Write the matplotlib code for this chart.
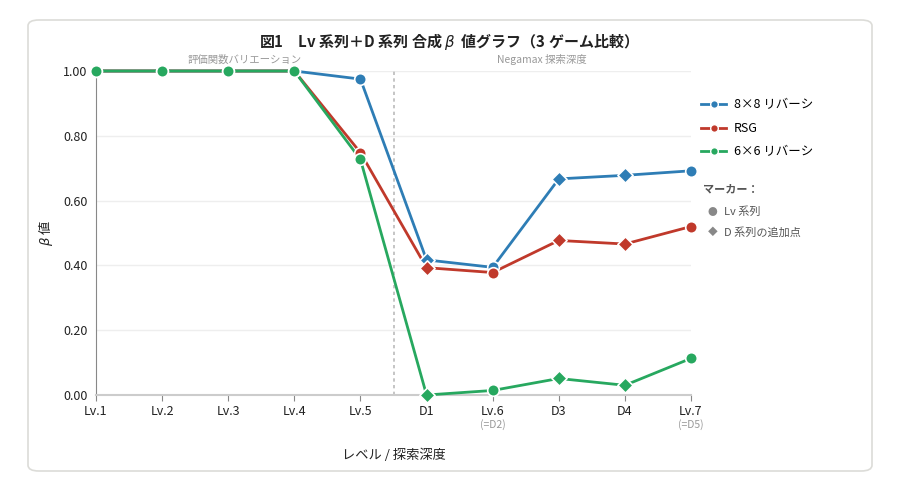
import matplotlib.pyplot as plt
from matplotlib.patches import FancyBboxPatch
from matplotlib.lines import Line2D

plt.rcParams['font.family'] = ['Noto Sans CJK JP', 'DejaVu Sans']

# x positions (categories) and labels
tick_labels = ["Lv.1", "Lv.2", "Lv.3", "Lv.4", "Lv.5", "D1", "Lv.6", "D3", "D4", "Lv.7"]
sub_labels = ["", "", "", "", "", "", "(=D2)", "", "", "(=D5)"]
is_d_point = [False, False, False, False, False, True, False, True, True, False]

reversi8 = [1.00, 1.00, 1.00, 1.00, 0.975, 0.417, 0.394, 0.667, 0.678, 0.692]
rsg = [1.00, 1.00, 1.00, 1.00, 0.748, 0.393, 0.378, 0.477, 0.466, 0.520]
reversi6 = [1.00, 1.00, 1.00, 1.00, 0.727, 0.000, 0.014, 0.051, 0.030, 0.113]

series = [
    ("8×8 リバーシ", reversi8, "#2e7db5"),
    ("RSG", rsg, "#c0392b"),
    ("6×6 リバーシ", reversi6, "#27a85f"),
]

fig = plt.figure(figsize=(9.08, 4.83), dpi=100)
fig.patch.set_facecolor("white")

# card background
card = FancyBboxPatch((28 / 908, 1 - 471 / 483), 844 / 908, 451 / 483,
                      boxstyle="round,pad=0,rounding_size=0.012",
                      transform=fig.transFigure, facecolor="white",
                      edgecolor="#dcdcd8", linewidth=1.2, zorder=-10)
fig.patches.append(card)

ax = fig.add_axes([96 / 908, 1 - 395 / 483, 595 / 908, 324 / 483])
ax.set_facecolor("none")

xs = list(range(len(tick_labels)))
for name, vals, color in series:
    ax.plot(xs, vals, color=color, lw=2.0, zorder=3, clip_on=False)
    cx = [x for x, d in zip(xs, is_d_point) if not d]
    cy = [v for v, d in zip(vals, is_d_point) if not d]
    dx = [x for x, d in zip(xs, is_d_point) if d]
    dy = [v for v, d in zip(vals, is_d_point) if d]
    ax.scatter(cx, cy, s=70, marker="o", color=color, edgecolor="white",
               linewidth=1.2, zorder=4, clip_on=False)
    ax.scatter(dx, dy, s=60, marker="D", color=color, edgecolor="white",
               linewidth=1.2, zorder=4, clip_on=False)

ax.set_xlim(0, 9)
ax.set_ylim(0, 1.0)
ax.set_yticks([0, 0.2, 0.4, 0.6, 0.8, 1.0])
ax.set_yticklabels([f"{v:.2f}" for v in [0, 0.2, 0.4, 0.6, 0.8, 1.0]])
ax.set_xticks(xs)
ax.set_xticklabels(tick_labels)
ax.tick_params(axis="both", labelsize=9, colors="#222222", length=4, color="#888888")
ax.tick_params(axis="y", length=0, pad=6)
ax.grid(axis="y", color="#eeeeee", lw=1)
ax.set_axisbelow(True)
for s in ["top", "right"]:
    ax.spines[s].set_visible(False)
ax.spines["left"].set_color("#888888")
ax.spines["bottom"].set_color("#cccccc")
ax.spines["bottom"].set_linewidth(1.5)

for x, sl in zip(xs, sub_labels):
    if sl:
        ax.text(x, -0.075, sl, ha="center", va="top", fontsize=7.5, color="#999999",
                transform=ax.get_xaxis_transform())

ax.axvline(4.5, color="#bbbbbb", lw=1.2, ls=(0, (2, 2)), zorder=1)
ax.text(2.25, 1.02, "評価関数バリエーション", ha="center", va="bottom", fontsize=7.5,
        color="#999999", transform=ax.get_xaxis_transform())
ax.text(6.75, 1.02, "Negamax 探索深度", ha="center", va="bottom", fontsize=7.5,
        color="#999999", transform=ax.get_xaxis_transform())

ax.set_xlabel("レベル / 探索深度", fontsize=9.5, labelpad=22, color="#222222")
ax.set_ylabel("$\\beta$ 値", fontsize=9.5, labelpad=6, color="#222222")

fig.text(445 / 908, 1 - 42 / 483, "図1　Lv 系列＋D 系列 合成 $\\beta$  値グラフ（3 ゲーム比較）",
         ha="center", va="center", fontsize=10.8, fontweight="bold", color="#222222")

handles = [Line2D([0], [0], color=c, lw=2.0, marker="o", markersize=5.5,
                  markeredgecolor="white") for _, _, c in series]
leg = fig.legend(handles, [n for n, _, _ in series], loc="upper left",
                 bbox_to_anchor=(690 / 908, 1 - 87 / 483), frameon=False,
                 fontsize=9, handlelength=2.0, handletextpad=0.6, labelspacing=0.85)

fig.text(703 / 908, 1 - 189 / 483, "マーカー：", fontsize=8, color="#555555",
         va="center", fontweight="bold")
fig.text(708 / 908, 1 - 212 / 483, "●", fontsize=7, color="#888888", va="center")
fig.text(724 / 908, 1 - 212 / 483, "Lv 系列", fontsize=8, color="#555555", va="center")
fig.text(708 / 908, 1 - 232 / 483, "◆", fontsize=7, color="#888888", va="center")
fig.text(724 / 908, 1 - 232 / 483, "D 系列の追加点", fontsize=8, color="#555555", va="center")

fig.savefig("out.png", dpi=100, facecolor="white")
